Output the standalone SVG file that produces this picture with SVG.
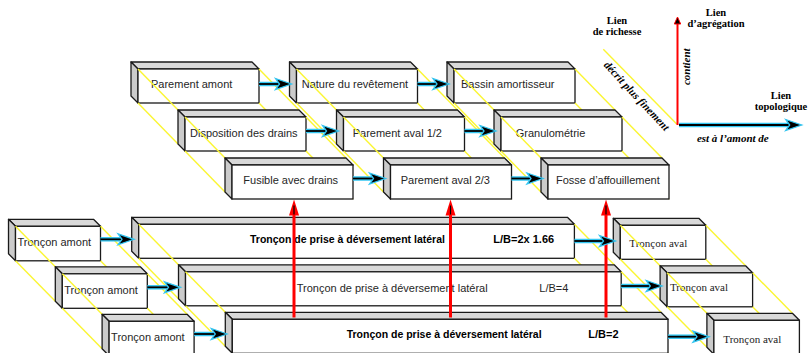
<svg xmlns="http://www.w3.org/2000/svg" width="809" height="353" viewBox="0 0 809 353">
<style>
  .top{fill:#d9d9d9;stroke:#1a1a1a;stroke-width:1.3;stroke-linejoin:round}
  .side{fill:#cbcbcb;stroke:#1a1a1a;stroke-width:1.3;stroke-linejoin:round}
  .front{fill:#fff;stroke:#1a1a1a;stroke-width:1.3}
  .guide line,line.guide{stroke:#fbf632;stroke-width:1.4}
  .lbl{font-family:"Liberation Sans",Arial,sans-serif;font-size:11px;fill:#262626}
  .big{font-family:"Liberation Sans",Arial,sans-serif;font-size:10.5px;fill:#000;font-weight:bold}
  .lb{font-family:"Liberation Sans",Arial,sans-serif;font-size:11px;fill:#000;font-weight:bold}
  .ser{font-family:"Liberation Serif","Times New Roman",serif;font-size:11px;fill:#222}
  .leg{font-family:"Liberation Serif","Times New Roman",serif;font-size:10.5px;font-weight:bold;fill:#000;text-anchor:middle}
  .legi{font-family:"Liberation Serif","Times New Roman",serif;font-size:11px;font-weight:bold;font-style:italic;fill:#000}
  .halo{stroke:#33c6f2;stroke-width:4.5}
  .core{stroke:#000;stroke-width:1.8;marker-end:url(#ah)}
  .red{stroke:#f00;stroke-width:3;marker-end:url(#rh)}
</style>
<defs>
  <marker id="ah" markerUnits="userSpaceOnUse" viewBox="-2 -8 20 16" markerWidth="20" markerHeight="16" refX="5" refY="0" orient="auto">
    <path d="M0,-5.5 L16,0 L0,5.5 L4,0 Z" fill="#000" stroke="#33c6f2" stroke-width="1.3" stroke-linejoin="miter"/>
  </marker>
  <marker id="rh" markerUnits="userSpaceOnUse" viewBox="-1 -6 18 12" markerWidth="18" markerHeight="12" refX="6" refY="0" orient="auto">
    <path d="M0,-5 L16,0 L0,5 Z" fill="#f00"/>
    <path d="M1,0 L10,0" stroke="#000" stroke-width="1.2"/>
  </marker>
  <marker id="lh" markerUnits="userSpaceOnUse" viewBox="-1 -5 9 10" markerWidth="9" markerHeight="10" refX="0" refY="0" orient="auto">
    <path d="M0,-3.2 L7,0 L0,3.2 Z" fill="#000" stroke="#f00" stroke-width="1"/>
  </marker>
  <g id="bU">
    <polygon class="top" points="0,0 121,0 128,7 7,7"/>
    <polygon class="side" points="0,0 7,7 7,41 0,34"/>
    <rect class="front" x="7" y="7" width="121" height="34"/>
  </g>
  <g id="bA">
    <polygon class="top" points="0,0 85,0 92,7 7,7"/>
    <polygon class="side" points="0,0 7,7 7,41.5 0,34.5"/>
    <rect class="front" x="7" y="7" width="85" height="34.5"/>
  </g>
  <g id="bB">
    <polygon class="top" points="0,0 435.7,0 442.7,7 7,7"/>
    <polygon class="side" points="0,0 7,7 7,41 0,34"/>
    <rect class="front" x="7" y="7" width="435.7" height="34"/>
  </g>
  <g id="bV">
    <polygon class="top" points="0,0 85.5,0 92.5,7 7,7"/>
    <polygon class="side" points="0,0 7,7 7,41 0,34"/>
    <rect class="front" x="7" y="7" width="85.5" height="34"/>
  </g>
</defs>
<rect width="809" height="353" fill="#fff"/>

<!-- upper section, row 1 -->
<g id="n-parement-amont"><use href="#bU" x="131" y="62"/><text class="lbl" x="151" y="88.3">Parement amont</text></g>
<g id="n-nature-revetement"><use href="#bU" x="289.5" y="62"/><text class="lbl" x="301.7" y="88.3">Nature du revêtement</text></g>
<g id="n-bassin-amortisseur"><use href="#bU" x="447" y="62"/><text class="lbl" x="461" y="88.3">Bassin amortisseur</text></g>

<g class="guide" id="guides-u1">
  <line x1="138" y1="69" x2="178" y2="110"/><line x1="138" y1="103" x2="178" y2="144"/>
  <line x1="259" y1="69" x2="299" y2="110"/><line x1="259" y1="103" x2="306" y2="151"/>
  <line x1="296.5" y1="69" x2="336.5" y2="110"/><line x1="296.5" y1="103" x2="336.5" y2="144"/>
  <line x1="417.5" y1="69" x2="457.5" y2="110"/><line x1="417.5" y1="103" x2="464.5" y2="151"/>
  <line x1="454" y1="69" x2="494" y2="110"/><line x1="454" y1="103" x2="494" y2="144"/>
  <line x1="575" y1="69" x2="615" y2="110"/><line x1="575" y1="103" x2="622" y2="151"/>
</g>

<!-- row 2 -->
<g id="n-disposition-drains"><use href="#bU" x="178" y="110"/><text class="lbl" x="190" y="136.5">Disposition des drains</text></g>
<g id="n-parement-aval-12"><use href="#bU" x="336.5" y="110"/><text class="lbl" x="352.7" y="136.5">Parement aval 1/2</text></g>
<g id="n-granulometrie"><use href="#bU" x="494" y="110"/><text class="lbl" x="515.7" y="136.5">Granulométrie</text></g>

<g class="guide" id="guides-u2">
  <line x1="185" y1="117" x2="225" y2="158"/><line x1="185" y1="151" x2="225" y2="192"/>
  <line x1="306" y1="117" x2="346" y2="158"/><line x1="306" y1="151" x2="353" y2="199"/>
  <line x1="343.5" y1="117" x2="383.5" y2="158"/><line x1="343.5" y1="151" x2="383.5" y2="192"/>
  <line x1="464.5" y1="117" x2="504.5" y2="158"/><line x1="464.5" y1="151" x2="511.5" y2="199"/>
  <line x1="501" y1="117" x2="541" y2="158"/><line x1="501" y1="151" x2="541" y2="192"/>
  <line x1="622" y1="117" x2="662" y2="158"/><line x1="622" y1="151" x2="669" y2="199"/>
</g>

<!-- row 3 -->
<g id="n-fusible-drains"><use href="#bU" x="225" y="158"/><text class="lbl" x="243.3" y="183.5">Fusible avec drains</text></g>
<g id="n-parement-aval-23"><use href="#bU" x="383.5" y="158"/><text class="lbl" x="400.7" y="183.5">Parement aval 2/3</text></g>
<g id="n-fosse-affouillement"><use href="#bU" x="541" y="158"/><text class="lbl" x="556" y="183.5">Fosse d’affouillement</text></g>

<!-- lower section, row 1 -->
<g id="n-troncon-amont-1"><use href="#bA" x="8.5" y="219.3"/><text class="lbl" x="17.5" y="246.3">Tronçon amont</text></g>
<g id="n-troncon-prise-1"><use href="#bB" x="131.7" y="217.3"/><text class="big" x="250" y="243.3">Tronçon de prise à déversement latéral</text><text class="lb" x="493.3" y="243.3">L/B=2x 1.66</text></g>
<g id="n-troncon-aval-1"><use href="#bV" x="613.3" y="218.3"/><text class="ser" x="629.3" y="246.7">Tronçon aval</text></g>

<g class="guide" id="guides-l1">
  <line x1="15.5" y1="226.3" x2="55.3" y2="266.8"/><line x1="15.5" y1="260.8" x2="55.3" y2="301.3"/>
  <line x1="100.5" y1="226.3" x2="140.3" y2="266.8"/><line x1="100.5" y1="260.8" x2="147.3" y2="308.3"/>
  <line x1="138.7" y1="224.3" x2="178.5" y2="264.8"/><line x1="138.7" y1="258.3" x2="178.5" y2="298.8"/>
  <line x1="574.4" y1="224.3" x2="614.2" y2="264.8"/><line x1="574.4" y1="258.3" x2="621.2" y2="305.8"/>
  <line x1="620.3" y1="225.3" x2="660.1" y2="265.8"/><line x1="620.3" y1="259.3" x2="660.1" y2="299.8"/>
  <line x1="705.8" y1="225.3" x2="745.6" y2="265.8"/><line x1="705.8" y1="259.3" x2="752.6" y2="306.8"/>
</g>

<!-- row 2 -->
<g id="n-troncon-amont-2"><use href="#bA" x="55.3" y="266.8"/><text class="lbl" x="64.3" y="293.8">Tronçon amont</text></g>
<g id="n-troncon-prise-2"><use href="#bB" x="178.5" y="264.8"/><text class="lbl" x="296.7" y="291.7">Tronçon de prise à déversement latéral</text><text class="lbl" x="539.3" y="291.7">L/B=4</text></g>
<g id="n-troncon-aval-2"><use href="#bV" x="660.1" y="265.8"/><text class="ser" x="670" y="291">Tronçon aval</text></g>

<g class="guide" id="guides-l2">
  <line x1="62.3" y1="273.8" x2="102.1" y2="314.3"/><line x1="62.3" y1="308.3" x2="102.1" y2="348.8"/>
  <line x1="147.3" y1="273.8" x2="187.1" y2="314.3"/><line x1="147.3" y1="308.3" x2="194.1" y2="355.8"/>
  <line x1="185.5" y1="271.8" x2="225.3" y2="312.3"/><line x1="185.5" y1="305.8" x2="225.3" y2="346.3"/>
  <line x1="621.2" y1="271.8" x2="661" y2="312.3"/><line x1="621.2" y1="305.8" x2="668" y2="353.3"/>
  <line x1="667.1" y1="272.8" x2="706.9" y2="313.3"/><line x1="667.1" y1="306.8" x2="706.9" y2="347.3"/>
  <line x1="752.6" y1="272.8" x2="792.4" y2="313.3"/><line x1="752.6" y1="306.8" x2="799.4" y2="354.3"/>
</g>

<!-- row 3 -->
<g id="n-troncon-amont-3"><use href="#bA" x="102.1" y="314.3"/><text class="lbl" x="111.1" y="341.3">Tronçon amont</text></g>
<g id="n-troncon-prise-3"><use href="#bB" x="225.3" y="312.3"/><text class="big" x="346.7" y="338.3">Tronçon de prise à déversement latéral</text><text class="lb" x="588.3" y="338.3">L/B=2</text></g>
<g id="n-troncon-aval-3"><use href="#bV" x="706.9" y="313.3"/><text class="ser" x="723.3" y="343">Tronçon aval</text></g>

<!-- legend -->
<g id="legend">
  <line class="guide" x1="603.3" y1="49.3" x2="676.7" y2="124"/>
  <text class="leg" x="617" y="24">Lien</text>
  <text class="leg" x="617" y="35">de richesse</text>
  <text class="leg" x="716" y="15.7">Lien</text>
  <text class="leg" x="716" y="26.7">d’agrégation</text>
  <text class="leg" x="781" y="99">Lien</text>
  <text class="leg" x="781" y="110">topologique</text>
  <text class="legi" x="634" y="98.5" text-anchor="middle" transform="rotate(47 634 98.5)">décrit plus finement</text>
  <text class="legi" x="690.5" y="66.7" text-anchor="middle" font-size="10.5" transform="rotate(-90 690.5 66.7)">contient</text>
  <text class="legi" x="732.8" y="141.7" text-anchor="middle">est à l’amont de</text>
  <line x1="677.5" y1="125" x2="677.5" y2="24" stroke="#f00" stroke-width="2" marker-end="url(#lh)"/>
  <line class="halo" x1="679" y1="125" x2="790.7" y2="125"/>
  <line class="core" x1="679" y1="125" x2="790.7" y2="125"/>
</g>

<!-- connectors -->
<g id="connectors">
  <line class="red" x1="294" y1="317.5" x2="294" y2="209.5"/>
  <line class="red" x1="450.5" y1="317.5" x2="450.5" y2="209.5"/>
  <line class="red" x1="606" y1="317.5" x2="606" y2="209.5"/>

  <line class="halo" x1="259" y1="84" x2="280.5" y2="84"/><line class="core" x1="259" y1="84" x2="280.5" y2="84"/>
  <line class="halo" x1="417.5" y1="84" x2="438" y2="84"/><line class="core" x1="417.5" y1="84" x2="438" y2="84"/>
  <line class="halo" x1="306" y1="131" x2="327.5" y2="131"/><line class="core" x1="306" y1="131" x2="327.5" y2="131"/>
  <line class="halo" x1="464.5" y1="131" x2="485" y2="131"/><line class="core" x1="464.5" y1="131" x2="485" y2="131"/>
  <line class="halo" x1="353" y1="178.5" x2="374.5" y2="178.5"/><line class="core" x1="353" y1="178.5" x2="374.5" y2="178.5"/>
  <line class="halo" x1="511.5" y1="178.5" x2="532" y2="178.5"/><line class="core" x1="511.5" y1="178.5" x2="532" y2="178.5"/>

  <line class="halo" x1="100.5" y1="239.3" x2="123" y2="239.3"/><line class="core" x1="100.5" y1="239.3" x2="123" y2="239.3"/>
  <line class="halo" x1="147.3" y1="287.3" x2="169.5" y2="287.3"/><line class="core" x1="147.3" y1="287.3" x2="169.5" y2="287.3"/>
  <line class="halo" x1="194.1" y1="334" x2="216.3" y2="334"/><line class="core" x1="194.1" y1="334" x2="216.3" y2="334"/>
  <line class="halo" x1="574.4" y1="241" x2="604.5" y2="241"/><line class="core" x1="574.4" y1="241" x2="604.5" y2="241"/>
  <line class="halo" x1="621.2" y1="286" x2="651.3" y2="286"/><line class="core" x1="621.2" y1="286" x2="651.3" y2="286"/>
  <line class="halo" x1="668" y1="336.7" x2="698" y2="336.7"/><line class="core" x1="668" y1="336.7" x2="698" y2="336.7"/>
</g>
</svg>
